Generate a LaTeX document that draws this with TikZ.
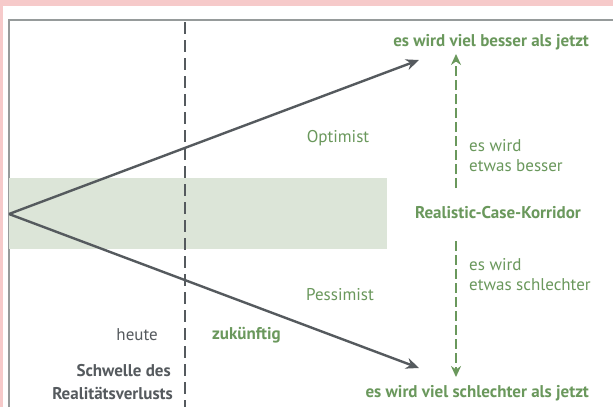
\documentclass[tikz,border=0pt]{standalone}
\usepackage{fontspec}
\setmainfont{PT Sans}
\usetikzlibrary{arrows.meta}
\definecolor{pinkbg}{RGB}{246,202,202}
\definecolor{corr}{RGB}{220,229,216}
\definecolor{grn}{RGB}{106,152,92}
\definecolor{gry}{RGB}{85,90,94}
\definecolor{frame}{RGB}{150,155,155}
\tikzset{
  gtext/.style={text=grn, font=\fontsize{17}{20}\selectfont, inner sep=0pt},
  gbold/.style={gtext, font=\fontsize{17}{20}\selectfont\bfseries},
  ytext/.style={text=gry, font=\fontsize{17}{20}\selectfont, inner sep=0pt},
  ybold/.style={ytext, font=\fontsize{17}{20}\selectfont\bfseries},
  scen/.style={draw=gry, line width=2.4pt, -{Stealth[length=13pt,width=11pt]}},
  gdash/.style={draw=grn, line width=2.8pt, dash pattern=on 10pt off 4pt, -{Stealth[length=11pt,width=10pt]}},
}
\begin{document}
\begin{tikzpicture}[x=1pt,y=-1pt]
\useasboundingbox (0,0) rectangle (613,407);
\fill[pinkbg] (0,0) rectangle (613,407);
\fill[white] (3,6) rectangle (613,407);
\draw[frame, line width=1.2pt] (9,407) -- (9,20) -- (613,20);
\fill[corr] (9,178) rectangle (387,249);
\draw[gry, line width=2pt, dash pattern=on 12pt off 6pt] (185,22) -- (185,407);
\coordinate (o) at (9,214);
\coordinate (up) at (419,60);
\coordinate (dn) at (419,368);
\draw[scen] (o) -- (up);
\draw[scen] (o) -- (dn);
\node[gbold, anchor=east] (best) at (589,42) {es wird viel besser als jetzt};
\node[gbold, anchor=east] (worst) at (589,393) {es wird viel schlechter als jetzt};
\node[gbold] (corrl) at (498,213) {Realistic-Case-Korridor};
\coordinate (ua) at (456,188);
\coordinate (ub) at (456,54);
\coordinate (la) at (456,241);
\coordinate (lb) at (456,377);
\draw[gdash] (ua) -- (ub);
\draw[gdash] (la) -- (lb);
\node[gtext, anchor=west] (eb1) at (469,146) {es wird};
\node[gtext, anchor=west] (eb2) at (469,166) {etwas besser};
\node[gtext, anchor=west] (es1) at (469,265) {es wird};
\node[gtext, anchor=west] (es2) at (469,285) {etwas schlechter};
\node[gtext] (opt) at (338,138) {Optimist};
\node[gtext] (pes) at (340,295) {Pessimist};
\node[ytext, anchor=east] (heute) at (158,335) {heute};
\node[gbold, anchor=west] (zuk) at (212,335) {zukünftig};
\node[ybold, anchor=east] (sch) at (171,371) {Schwelle des};
\node[ybold, anchor=east] (rea) at (173,393) {Realitätsverlusts};
\end{tikzpicture}
\end{document}
